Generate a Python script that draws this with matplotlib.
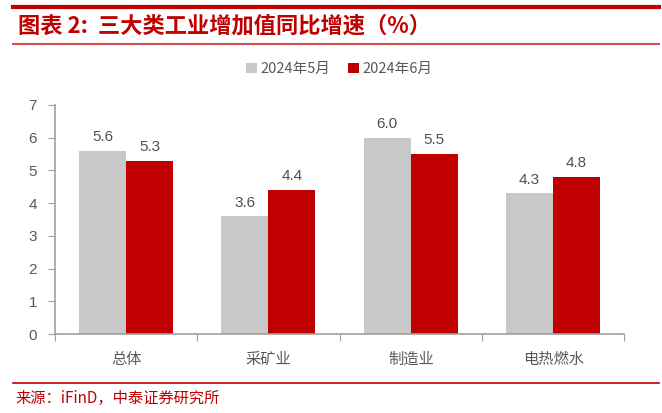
import matplotlib
matplotlib.use("Agg")
import matplotlib.pyplot as plt
import numpy as np

# 数据
categories = ['总体', '采矿业', '制造业', '电热燃水']
may_2024 = [5.6, 3.6, 6.0, 4.3]
jun_2024 = [5.3, 4.4, 5.5, 4.8]
series_names = ['2024年5月', '2024年6月']
yticks = [0, 1, 2, 3, 4, 5, 6, 7]

plt.rcParams['font.family'] = ['Liberation Sans', 'Noto Sans CJK SC', 'DejaVu Sans']
cjk = ['Noto Sans CJK SC', 'DejaVu Sans']

RED = '#C00000'
GRAY = '#C8C8C8'
TXT = '#595959'

fig = plt.figure(figsize=(6.62, 4.13), dpi=100)
ax = fig.add_axes([0.083, 0.191, 0.86, 0.555])

x = np.arange(len(categories))
w = 0.33
b1 = ax.bar(x - w / 2, may_2024, w, color=GRAY, label=series_names[0])
b2 = ax.bar(x + w / 2, jun_2024, w, color=RED, label=series_names[1])

for bars, vals in ((b1, may_2024), (b2, jun_2024)):
    for r, v in zip(bars, vals):
        ax.text(r.get_x() + r.get_width() / 2, v + 0.2, f'{v:.1f}',
                ha='center', va='bottom', fontsize=11, color='#505050')

ax.set_xlim(-0.5, len(categories) - 0.5)
ax.set_ylim(0, 7)
ax.set_yticks(yticks)
ax.set_xticks(np.arange(len(categories) + 1) - 0.5, minor=False)
ax.set_xticklabels([])
ax.set_xticks(x, minor=True)
ax.set_xticklabels(categories, minor=True, family=cjk, fontsize=11, color=TXT)
ax.tick_params(axis='x', which='minor', length=0, pad=12)
ax.tick_params(axis='x', which='major', length=5, color='#A0A0A0')
ax.tick_params(axis='y', length=5, color='#A0A0A0', labelsize=11, labelcolor=TXT, pad=8)

for s in ('top', 'right'):
    ax.spines[s].set_visible(False)
for s in ('left', 'bottom'):
    ax.spines[s].set_color('#A0A0A0')
    ax.spines[s].set_linewidth(1.2)

leg = ax.legend(loc='center', bbox_to_anchor=(0.5, 1.155), ncol=2, frameon=False,
                handlelength=0.7, handleheight=0.7, handletextpad=0.3, columnspacing=1.2,
                prop={'family': cjk, 'size': 10.5})
for t in leg.get_texts():
    t.set_color(TXT)

# 标题和来源
fig.add_artist(plt.Line2D([0.02, 0.995], [0.983, 0.983], color=RED, lw=3))
fig.add_artist(plt.Line2D([0.02, 0.995], [0.893, 0.893], color='#D05050', lw=1.5))
fig.text(0.027, 0.938, '图表 2:  三大类工业增加值同比增速（%）', family=cjk,
         fontsize=16, fontweight='bold', fontstyle='italic', color=RED, va='center')
fig.add_artist(plt.Line2D([0.02, 0.995], [0.073, 0.073], color=RED, lw=1.2))
fig.text(0.024, 0.035, '来源：iFinD，中泰证券研究所', family=cjk,
         fontsize=11, color=RED, va='center')

fig.savefig('out.png', dpi=100)
